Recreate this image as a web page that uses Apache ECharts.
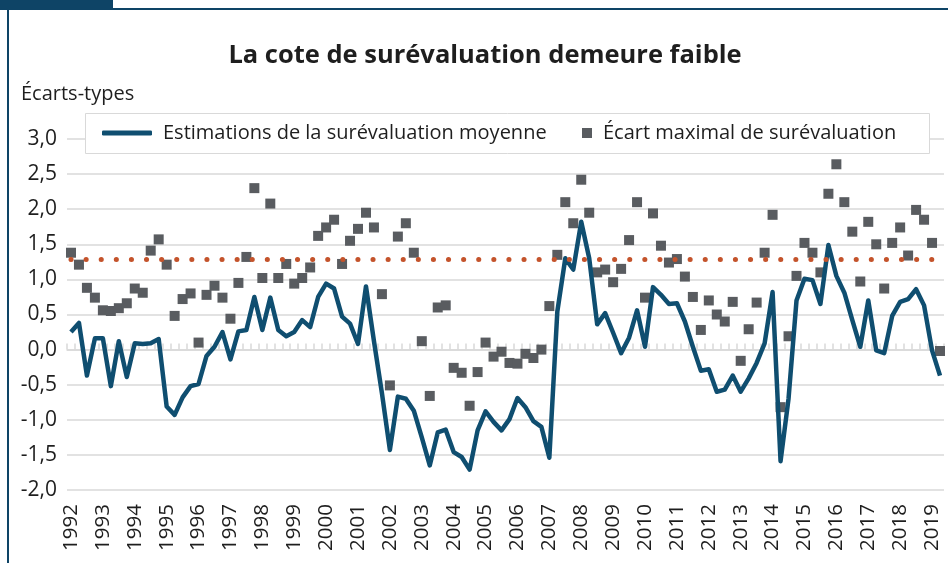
<!DOCTYPE html>
<html>
<head>
<meta charset="utf-8">
<script src="https://cdn.jsdelivr.net/npm/echarts@6/dist/echarts.min.js"></script>
<style>
html,body{margin:0;padding:0;background:#fff;}
#c{width:948px;height:563px;}
</style>
</head>
<body>
<div id="c"></div>
<script>
const years = [1992,1993,1994,1995,1996,1997,1998,1999,2000,2001,2002,2003,2004,2005,2006,2007,2008,2009,2010,2011,2012,2013,2014,2015,2016,2017,2018,2019];
const quarters = ['T1','T2','T3','T4'];
const lastYearQuarters = 2; // données jusqu'au 2e trimestre 2019
const categories = [];
years.forEach((y, k) => {
  const n = (k === years.length - 1) ? lastYearQuarters : 4;
  for (let q = 0; q < n; q++) categories.push(y + quarters[q]);
});

const moyenne = [
  0.25, 0.38, -0.37, 0.16, 0.16, -0.52, 0.12, -0.39, 0.09, 0.08,
  0.09, 0.15, -0.81, -0.93, -0.68, -0.52, -0.49, -0.09, 0.04, 0.25,
  -0.14, 0.26, 0.28, 0.75, 0.28, 0.74, 0.28, 0.19, 0.25, 0.42,
  0.32, 0.75, 0.94, 0.87, 0.47, 0.37, 0.08, 0.90, 0.12, -0.62,
  -1.43, -0.67, -0.70, -0.87, -1.25, -1.65, -1.18, -1.14, -1.46, -1.53,
  -1.71, -1.15, -0.88, -1.03, -1.15, -0.99, -0.69, -0.82, -1.02, -1.10,
  -1.54, 0.54, 1.30, 1.14, 1.82, 1.30, 0.36, 0.52, 0.24, -0.05,
  0.17, 0.56, 0.04, 0.89, 0.78, 0.65, 0.66, 0.40, 0.04, -0.30,
  -0.28, -0.60, -0.57, -0.37, -0.60, -0.41, -0.19, 0.09, 0.82, -1.59,
  -0.70, 0.70, 1.01, 0.99, 0.65, 1.49, 1.05, 0.81, 0.42, 0.04,
  0.70, -0.01, -0.05, 0.48, 0.68, 0.72, 0.86, 0.63, -0.01, -0.37
];

const ecartMax = [
  1.38, 1.21, 0.88, 0.74, 0.56, 0.55, 0.59, 0.66, 0.87, 0.81,
  1.41, 1.57, 1.21, 0.48, 0.72, 0.80, 0.10, 0.78, 0.91, 0.74,
  0.44, 0.95, 1.32, 2.30, 1.02, 2.08, 1.02, 1.22, 0.94, 1.02,
  1.17, 1.62, 1.74, 1.85, 1.22, 1.55, 1.72, 1.95, 1.74, 0.79,
  -0.51, 1.61, 1.80, 1.38, 0.12, -0.66, 0.60, 0.63, -0.26, -0.33,
  -0.80, -0.32, 0.10, -0.10, -0.03, -0.19, -0.20, -0.06, -0.12, 0.00,
  0.62, 1.35, 2.10, 1.80, 2.42, 1.95, 1.10, 1.14, 0.96, 1.15,
  1.56, 2.10, 0.74, 1.94, 1.48, 1.24, 1.29, 1.04, 0.75, 0.28,
  0.70, 0.50, 0.40, 0.68, -0.16, 0.29, 0.67, 1.38, 1.92, -0.82,
  0.19, 1.05, 1.52, 1.38, 1.10, 2.22, 2.64, 2.10, 1.68, 0.97,
  1.82, 1.50, 0.87, 1.52, 1.74, 1.34, 1.99, 1.85, 1.52, -0.02
];

const seuil = 1.28;
const yTicks = [-2.0, -1.5, -1.0, -0.5, 0.0, 0.5, 1.0, 1.5, 2.0, 2.5, 3.0];

const FONT = 'Open Sans';
const TXT = '#1e1e1e';
const NAVY = '#0e4466';

const chart = echarts.init(document.getElementById('c'), null, {renderer: 'canvas'});
chart.setOption({
  animation: false,
  textStyle: {fontFamily: FONT},
  title: [
    {text: 'La cote de surévaluation demeure faible', left: 480, top: 38, textAlign: 'center',
     textStyle: {fontFamily: FONT, fontWeight: 'bold', fontSize: 25.5, color: TXT}},
    {text: 'Écarts-types', left: 21, top: 84, padding: 0,
     textStyle: {fontFamily: FONT, fontWeight: 'normal', fontSize: 20, color: TXT}}
  ],
  graphic: [
    {type: 'rect', shape: {x: 0, y: 0, width: 113, height: 10}, style: {fill: NAVY}, silent: true},
    {type: 'rect', shape: {x: 0, y: 8, width: 948, height: 2}, style: {fill: NAVY}, silent: true},
    {type: 'rect', shape: {x: 7, y: 8, width: 2, height: 555}, style: {fill: NAVY}, silent: true},
    {type: 'rect', z: 3, shape: {x: 85.5, y: 113.5, width: 844, height: 40}, style: {fill: '#fff', stroke: '#d9d9d9', lineWidth: 1}, silent: true}
  ],
  legend: [
    {data: [{name: 'Estimations de la surévaluation moyenne', icon: 'roundRect'}],
     left: 102, top: 123, padding: 0, itemWidth: 50, itemHeight: 5, z: 5,
     textStyle: {fontFamily: FONT, fontSize: 20, color: TXT, padding: [0, 0, 0, 6]}},
    {data: [{name: 'Écart maximal de surévaluation', icon: 'rect'}],
     left: 582, top: 123, padding: 0, itemWidth: 10, itemHeight: 10, z: 5,
     textStyle: {fontFamily: FONT, fontSize: 20, color: TXT, padding: [0, 0, 0, 6]}}
  ],
  grid: {left: 67, right: 4, top: 139, bottom: 73, containLabel: false},
  xAxis: [
    {type: 'category', data: categories, position: 'bottom', boundaryGap: true,
     axisLine: {show: false, onZero: false}, axisTick: {show: false}, splitLine: {show: false},
     axisLabel: {interval: (i) => i % 4 === 0, rotate: 90, margin: 14,
       formatter: (v) => v.slice(0, 4),
       fontFamily: FONT, fontSize: 20.5, color: TXT}},
    {type: 'category', data: categories, position: 'bottom', boundaryGap: true,
     axisLine: {show: true, onZero: true, lineStyle: {color: '#d9d9d9', width: 1.5}},
     axisTick: {show: true, interval: 0, inside: true, length: 6, lineStyle: {color: '#d9d9d9', width: 1.5}},
     axisLabel: {show: false}, splitLine: {show: false}}
  ],
  yAxis: {
    type: 'value', min: yTicks[0], max: yTicks[yTicks.length - 1], interval: 0.5,
    axisLine: {show: false}, axisTick: {show: false},
    splitLine: {lineStyle: {color: '#d9d9d9', width: 1.5}},
    axisLabel: {margin: 10, fontFamily: FONT, fontSize: 21, color: TXT,
      formatter: (v) => v.toFixed(1).replace('.', ',')}
  },
  series: [
    {name: 'Estimations de la surévaluation moyenne', type: 'line', data: moyenne,
     xAxisIndex: 0, symbol: 'none', z: 3,
     lineStyle: {color: '#0f4e70', width: 4.5, join: 'round'},
     itemStyle: {color: '#0f4e70'},
     markLine: {silent: true, symbol: 'none', label: {show: false},
       lineStyle: {color: '#c4532b', width: 5, type: [0.1, 15], cap: 'round'},
       emphasis: {disabled: true},
       data: [[{coord: [0, seuil]}, {coord: [categories.length - 1, seuil]}]]}},
    {name: 'Écart maximal de surévaluation', type: 'scatter', data: ecartMax,
     xAxisIndex: 0, symbol: 'rect', symbolSize: 10, z: 2,
     itemStyle: {color: '#595c60', opacity: 1}}
  ]
});
</script>
</body>
</html>
